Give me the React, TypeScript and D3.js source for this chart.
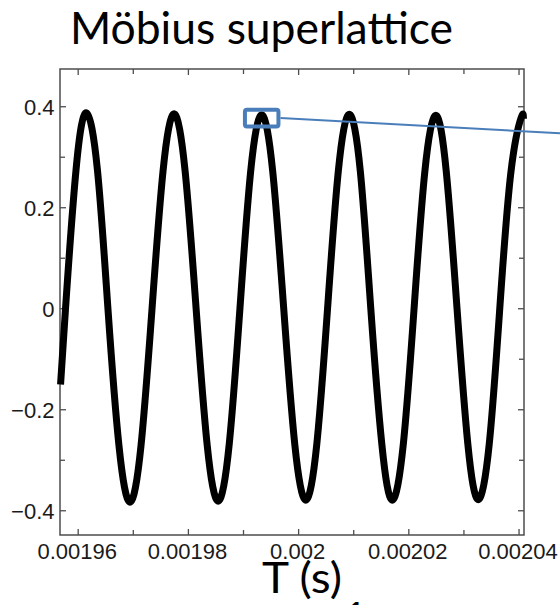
import React from "react";
import * as d3 from "d3";

// Sampled signal: time (s) and amplitude
const times: number[] = [
  0.0019568, 0.0019577, 0.0019596, 0.0019615,
  0.0019635, 0.0019654, 0.0019674, 0.0019694,
  0.0019714, 0.0019734, 0.0019754, 0.0019774,
  0.0019794, 0.0019814, 0.0019834, 0.0019854,
  0.0019874, 0.00198935, 0.0019913, 0.0019933,
  0.0019953, 0.0019973, 0.0019993, 0.0020013,
  0.0020033, 0.00200525, 0.0020072, 0.0020092,
  0.0020112, 0.0020131, 0.0020151, 0.002017,
  0.002019, 0.00202095, 0.0020229, 0.0020249,
  0.0020268, 0.00202875, 0.0020307, 0.0020326,
  0.0020346, 0.0020365, 0.0020385, 0.0020404,
  0.0020408,
];
const values: number[] = [
  -0.15, 0.0, 0.274, 0.388,
  0.274, 0.0, -0.271, -0.383,
  -0.271, 0.0, 0.273, 0.386,
  0.273, 0.0, -0.269, -0.381,
  -0.269, 0.0, 0.272, 0.384,
  0.272, 0.0, -0.268, -0.379,
  -0.268, 0.0, 0.272, 0.385,
  0.272, 0.0, -0.268, -0.379,
  -0.268, 0.0, 0.271, 0.383,
  0.271, 0.0, -0.267, -0.378,
  -0.267, 0.0, 0.268, 0.379,
  0.376,
];

// Axis ticks
const xMajorTicks: number[] = [0.00196, 0.00198, 0.002, 0.00202, 0.00204];
const xTickLabels: string[] = ["0.00196", "0.00198", "0.002", "0.00202", "0.00204"];
const xMinorTicks: number[] = [0.00197, 0.00199, 0.00201, 0.00203];
const yMajorTicks: number[] = [-0.4, -0.2, 0, 0.2, 0.4];
const yTickLabels: string[] = ["\u22120.4", "\u22120.2", "0", "0.2", "0.4"];
const yMinorTicks: number[] = [-0.3, -0.1, 0.1, 0.3];

// Highlighted crest (third peak)
const focusTime = 0.0019933;
const focusRange: number[] = [0.361, 0.394];

const W = 560;
const H = 605;
const left = 60;
const right = 524;
const top = 69;
const bottom = 535;

export default function App() {
  const x = d3.scaleLinear().domain([0.0019567, 0.0020409]).range([left, right]);
  const y = d3.scaleLinear().domain([-0.448, 0.4747]).range([bottom, top]);

  const pts: [number, number][] = times.map((t, i) => [t, values[i]]);
  const line = d3
    .line<[number, number]>()
    .x((d) => x(d[0]))
    .y((d) => y(d[1]))
    .curve(d3.curveNatural);

  const axisColor = "#4d4d4d";
  const tickFont = "'Liberation Sans', Arial, sans-serif";
  const majorLen = 6;
  const minorLen = 5;

  const rx0 = x(focusTime) - 16.75;
  const rx1 = x(focusTime) + 16.75;
  const ry0 = y(focusRange[1]);
  const ry1 = y(focusRange[0]);
  const ryMid = (ry0 + ry1) / 2;

  return (
    <svg
      width={W}
      height={H}
      viewBox={`0 0 ${W} ${H}`}
      style={{ position: "absolute", left: 0, top: 0, background: "#fff", display: "block" }}
    >
      <rect x={0} y={0} width={W} height={H} fill="#fff" />

      {/* Title */}
      <text
        x={70}
        y={43.8}
        fontFamily="Lato, 'Open Sans', sans-serif"
        fontSize={43.5}
        textLength={383}
        lengthAdjust="spacingAndGlyphs"
        fill="#000"
      >
        Möbius superlattice
      </text>

      {/* Frame */}
      <rect
        x={left}
        y={top}
        width={right - left}
        height={bottom - top}
        fill="none"
        stroke={axisColor}
        strokeWidth={1.5}
      />

      {/* X ticks: bottom and top, pointing inward */}
      {xMajorTicks.concat(xMinorTicks).map((t, i) => {
        const len = i < xMajorTicks.length ? majorLen : minorLen;
        return (
          <g key={`xt${i}`} stroke={axisColor} strokeWidth={1.3}>
            <line x1={x(t)} x2={x(t)} y1={bottom} y2={bottom - len} />
            <line x1={x(t)} x2={x(t)} y1={top} y2={top + len} />
          </g>
        );
      })}

      {/* Y ticks: left and right, pointing inward */}
      {yMajorTicks.concat(yMinorTicks).map((v, i) => {
        const len = i < yMajorTicks.length ? majorLen : minorLen;
        return (
          <g key={`yt${i}`} stroke={axisColor} strokeWidth={1.3}>
            <line x1={left} x2={left + len} y1={y(v)} y2={y(v)} />
            <line x1={right} x2={right - len} y1={y(v)} y2={y(v)} />
          </g>
        );
      })}

      {/* X tick labels */}
      {xMajorTicks.map((t, i) => (
        <text
          key={`xl${i}`}
          x={x(t) - 1}
          y={559}
          textAnchor="middle"
          fontFamily={tickFont}
          fontSize={22}
          fill="#1a1a1a"
        >
          {xTickLabels[i]}
        </text>
      ))}

      {/* Y tick labels */}
      {yMajorTicks.map((v, i) => (
        <text
          key={`yl${i}`}
          x={54.5}
          y={y(v)}
          dy="0.36em"
          textAnchor="end"
          fontFamily={tickFont}
          fontSize={22}
          fill="#1a1a1a"
        >
          {yTickLabels[i]}
        </text>
      ))}

      {/* Signal */}
      <path
        d={line(pts) || ""}
        fill="none"
        stroke="#000"
        strokeWidth={7}
        strokeLinejoin="round"
        strokeLinecap="butt"
      />

      {/* Highlight box and pointer */}
      <rect
        x={rx0}
        y={ry0}
        width={rx1 - rx0}
        height={ry1 - ry0}
        rx={2}
        fill="none"
        stroke="#4a7ebb"
        strokeWidth={4}
      />
      <line x1={rx1 + 2} y1={ryMid} x2={W} y2={133.3} stroke="#4a7ebb" strokeWidth={2} />

      {/* Axis title */}
      <text
        x={262}
        y={593}
        fontFamily="Lato, 'Open Sans', sans-serif"
        fontSize={42}
        textLength={80}
        lengthAdjust="spacingAndGlyphs"
        fill="#000"
      >
        T (s)
      </text>
      <text
        x={343}
        y={633}
        fontFamily="Lato, 'Open Sans', sans-serif"
        fontSize={42}
        fill="#000"
      >
        1
      </text>
    </svg>
  );
}
